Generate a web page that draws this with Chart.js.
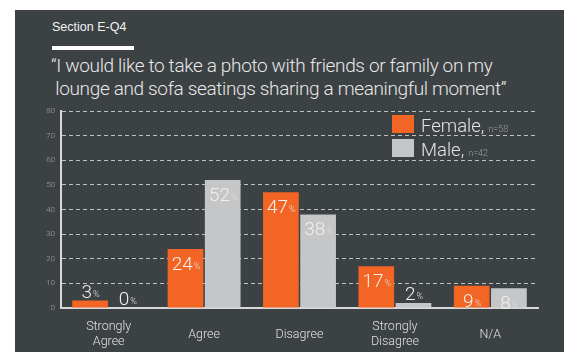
<!DOCTYPE html>
<html>
<head>
<meta charset="utf-8">
<script src="https://cdn.jsdelivr.net/npm/chart.js@4/dist/chart.umd.min.js"></script>
<style>
  html, body { margin: 0; padding: 0; background: #ffffff; }
  body { width: 564px; height: 352px; position: relative; overflow: hidden; font-family: Roboto, "Liberation Sans", Arial, sans-serif; }
  #card { position: absolute; left: 15px; top: 10px; right: 0; bottom: 0; background: #3c4144; }
  #section { position: absolute; left: 52px; top: 20px; color: #f2f2f2; font-size: 12.5px; line-height: 14px; font-family: "Liberation Sans", Arial, sans-serif; }
  #rule { position: absolute; left: 52px; top: 46px; width: 82px; height: 4px; background: #ffffff; }
  #title { position: absolute; left: 51px; top: 54px; color: #e8e8e8; font-size: 19px; font-weight: 300; line-height: 23px; letter-spacing: -0.35px; }
  #wrap { position: absolute; left: 0; top: 0; width: 564px; height: 352px; }
</style>
</head>
<body>
<div id="card"></div>
<div id="section">Section E-Q4</div>
<div id="rule"></div>
<div id="title">“I would like to take a photo with friends or family on my<br>&nbsp;lounge and sofa seatings sharing a meaningful moment”</div>
<div id="wrap"><canvas id="chart" width="564" height="352"></canvas></div>
<script>
// Chart data
const categories = [['Strongly', 'Agree'], 'Agree', 'Disagree', ['Strongly', 'Disagree'], 'N/A'];
const femaleValues = [3, 24, 47, 17, 9];
const maleValues = [0, 52, 38, 2, 8];
const seriesNames = ['Female,', 'Male,'];
const seriesCounts = ['n=58', 'n=42'];
const yTicks = [0, 10, 20, 30, 40, 50, 60, 70, 80];

const ORANGE = '#f26524';
const GREY = '#c4c6c8';
const LIGHT = '300 {s}px Roboto, "Liberation Sans", Arial, sans-serif';
const font = s => LIGHT.replace('{s}', s);

// draws the value labels: big number with a small % after it
const valueLabels = {
    id: 'valueLabels',
    afterDatasetsDraw(chart) {
        const ctx = chart.ctx;
        ctx.save();
        chart.data.datasets.forEach((ds, i) => {
            const meta = chart.getDatasetMeta(i);
            meta.data.forEach((bar, j) => {
                const v = ds.data[j];
                const num = String(v);
                ctx.font = font(19);
                const w1 = ctx.measureText(num).width;
                ctx.font = font(9);
                const w2 = ctx.measureText('%').width;
                const x0 = bar.x - (w1 + w2) / 2;
                // inside the bar if tall enough, otherwise above it
                const yBase = v >= 8 ? bar.y + 21 : bar.y - 3;
                ctx.textBaseline = 'alphabetic';
                ctx.textAlign = 'left';
                ctx.fillStyle = '#f4f0ec';
                ctx.font = font(19);
                ctx.fillText(num, x0, yBase);
                ctx.fillStyle = '#e2dcd8';
                ctx.font = font(9);
                ctx.fillText('%', x0 + w1 + 1, yBase - 1);
            });
        });
        ctx.restore();
    }
};

// custom legend with the sample sizes in small type
const sideLegend = {
    id: 'sideLegend',
    afterDraw(chart) {
        const ctx = chart.ctx;
        ctx.save();
        chart.data.datasets.forEach((ds, i) => {
            const y = 115 + i * 24;
            ctx.fillStyle = ds.backgroundColor;
            ctx.fillRect(392, y, 22, 18);
            ctx.fillStyle = '#e4e4e4';
            ctx.textBaseline = 'alphabetic';
            ctx.textAlign = 'left';
            ctx.font = font(18.5);
            ctx.fillText(seriesNames[i], 421, y + 17);
            const w = ctx.measureText(seriesNames[i]).width;
            ctx.fillStyle = '#9a9ea0';
            ctx.font = font(9);
            ctx.fillText(seriesCounts[i], 421 + w + 4, y + 17);
        });
        ctx.restore();
    }
};

new Chart(document.getElementById('chart'), {
    type: 'bar',
    data: {
        labels: categories,
        datasets: [
            { label: 'Female', data: femaleValues, backgroundColor: ORANGE, borderWidth: 0,
              barPercentage: 0.96, categoryPercentage: 0.78 },
            { label: 'Male', data: maleValues, backgroundColor: GREY, borderWidth: 0,
              barPercentage: 0.96, categoryPercentage: 0.78 }
        ]
    },
    options: {
        responsive: false,
        animation: false,
        layout: { padding: { left: 15, top: 111, right: 26, bottom: 4 } },
        plugins: { legend: { display: false }, tooltip: { enabled: false } },
        scales: {
            x: {
                grid: { display: false, drawTicks: false },
                border: { display: true, color: '#d8d8d8', width: 2 },
                ticks: {
                    color: '#e0e0e0',
                    font: { family: 'Roboto, "Liberation Sans", Arial, sans-serif', size: 12.5, weight: 300, lineHeight: 1.2 },
                    padding: 19,
                    maxRotation: 0,
                    autoSkip: false,
                    crossAlign: 'center'
                },
                afterFit(scale) { scale.height = 40; }
            },
            y: {
                min: 0,
                max: 80,
                afterBuildTicks(scale) { scale.ticks = yTicks.map(v => ({ value: v })); },
                grid: { color: 'rgba(225,225,225,0.8)', lineWidth: 1, drawTicks: false },
                border: { display: true, color: '#d8d8d8', width: 2, dash: [4, 3] },
                ticks: {
                    color: '#9fa3a5',
                    font: { family: 'Roboto, "Liberation Sans", Arial, sans-serif', size: 8, weight: 300 },
                    padding: 6
                },
                afterFit(scale) { scale.width = 46; }
            }
        }
    },
    plugins: [valueLabels, sideLegend]
});
</script>
</body>
</html>
